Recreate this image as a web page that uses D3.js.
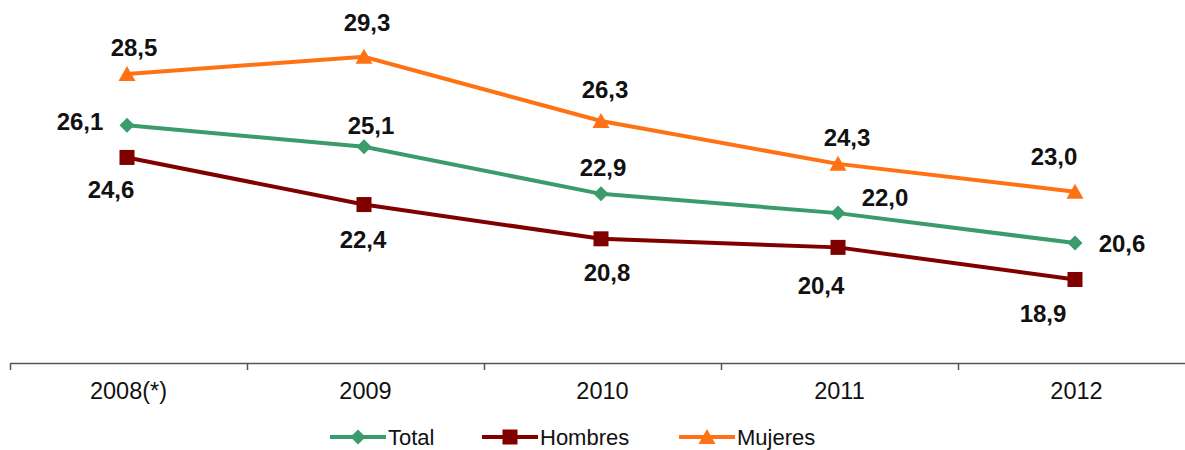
<!DOCTYPE html>
<meta charset="utf-8">
<style>
body { margin: 0; background: #fff; }
svg { font-family: "Liberation Sans", Arial, sans-serif; }
</style>
<svg id="chart" width="1185" height="450"></svg>
<script src="https://cdn.jsdelivr.net/npm/d3@7"></script>
<script>
var years = ["2008(*)", "2009", "2010", "2011", "2012"];
var total = [26.1, 25.1, 22.9, 22.0, 20.6];
var hombres = [24.6, 22.4, 20.8, 20.4, 18.9];
var mujeres = [28.5, 29.3, 26.3, 24.3, 23.0];

// where each value label sits relative to its point
var labelPos = {
  Total:   [[-47, -4], [7, -21], [2, -26], [47, -16], [47, 1]],
  Hombres: [[-16, 32], [-1, 35], [6, 34], [-17, 38], [-32, 34]],
  Mujeres: [[7, -26], [3, -34], [4, -31], [9, -26], [-21, -35]]
};

var series = [
  {name: "Total", values: total, color: "#3a9b6b", marker: "diamond"},
  {name: "Hombres", values: hombres, color: "#800000", marker: "square"},
  {name: "Mujeres", values: mujeres, color: "#ff7214", marker: "triangle"}
];

var svg = d3.select("#chart");

var x = d3.scaleBand().domain(years).range([10, 1195]);
var y = d3.scaleLinear().domain([15, 32]).range([363, -1]);

var axis = d3.axisBottom(x).tickSize(0);
var gx = svg.append("g").attr("transform", "translate(0,363)").call(axis);
gx.select(".domain").attr("stroke", "#555").attr("stroke-width", 1.5);
gx.selectAll("text")
  .attr("y", 28).attr("dy", "0.35em")
  .attr("font-size", 23.5).attr("fill", "#111")
  .attr("font-family", "Liberation Sans, Arial, sans-serif");
// tick marks at the band edges
gx.selectAll(".edge")
  .data(years)
  .enter().append("line")
    .attr("x1", function(d) { return x(d) + 0.5; })
    .attr("x2", function(d) { return x(d) + 0.5; })
    .attr("y1", 0).attr("y2", 7)
    .attr("stroke", "#555").attr("stroke-width", 1.5);

function cx(i) { return x(years[i]) + x.bandwidth() / 2 - 1.5; }

function drawMarker(g, type, color) {
  if (type === "diamond") {
    g.append("path").attr("d", "M0,-7.5L7.5,0L0,7.5L-7.5,0Z").attr("fill", color);
  } else if (type === "square") {
    g.append("rect").attr("x", -7.5).attr("y", -7.5).attr("width", 15).attr("height", 15).attr("fill", color);
  } else {
    g.append("path").attr("d", "M0,-8L8.5,7L-8.5,7Z").attr("fill", color);
  }
}

var line = d3.line()
  .x(function(d, i) { return cx(i); })
  .y(function(d) { return y(d); });

series.forEach(function(s) {
  svg.append("path")
    .datum(s.values)
    .attr("fill", "none")
    .attr("stroke", s.color)
    .attr("stroke-width", 4)
    .attr("d", line);

  s.values.forEach(function(v, i) {
    var g = svg.append("g").attr("transform", "translate(" + cx(i) + "," + y(v) + ")");
    drawMarker(g, s.marker, s.color);
  });

  svg.selectAll(".lbl-" + s.name)
    .data(s.values)
    .enter().append("text")
      .attr("x", function(d, i) { return cx(i) + labelPos[s.name][i][0]; })
      .attr("y", function(d, i) { return y(d) + labelPos[s.name][i][1]; })
      .attr("dy", "0.35em")
      .attr("text-anchor", "middle")
      .attr("font-size", 24)
      .attr("font-weight", "bold")
      .attr("fill", "#111")
      .text(function(d) { return d3.format(".1f")(d).replace(".", ","); });
});

// legend
var legX = [330, 482, 679];
series.forEach(function(s, i) {
  var g = svg.append("g").attr("transform", "translate(" + legX[i] + ",437)");
  g.append("line").attr("x1", 0).attr("x2", 56).attr("y1", 0).attr("y2", 0)
    .attr("stroke", s.color).attr("stroke-width", 4);
  drawMarker(g.append("g").attr("transform", "translate(28,0)"), s.marker, s.color);
  g.append("text").attr("x", 58).attr("y", 0).attr("dy", "0.35em")
    .attr("font-size", 22).attr("fill", "#111").text(s.name);
});
</script>
